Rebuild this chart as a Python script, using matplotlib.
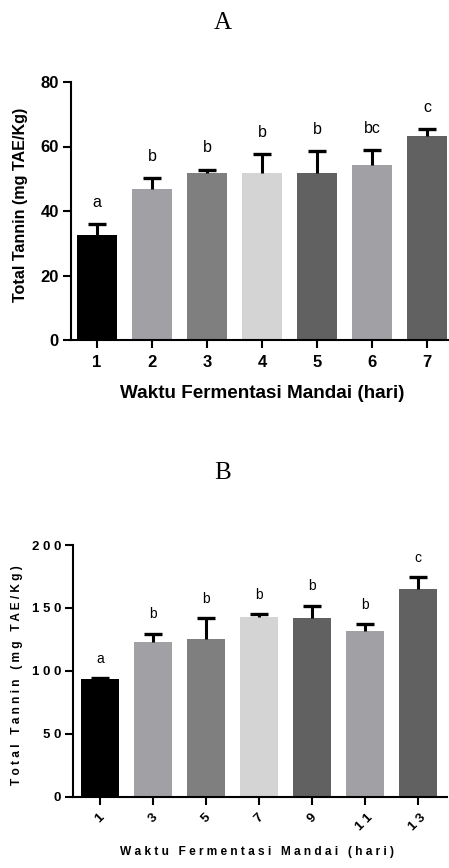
import matplotlib
matplotlib.use("Agg")
import matplotlib.pyplot as plt
import numpy as np

# ---- data -------------------------------------------------------------
days_a = ["1", "2", "3", "4", "5", "6", "7"]
tannin_a = [32.7, 46.7, 51.8, 51.8, 51.8, 54.3, 63.2]
sd_a = [3.2, 3.5, 1.0, 5.8, 6.8, 4.5, 2.2]
letters_a = ["a", "b", "b", "b", "b", "bc", "c"]
yticks_a = [0, 20, 40, 60, 80]

days_b = ["1", "3", "5", "7", "9", "11", "13"]
tannin_b = [93.3, 122.7, 125.1, 142.8, 142.0, 131.7, 165.1]
sd_b = [1.0, 6.8, 16.7, 2.4, 9.8, 5.3, 9.5]
letters_b = ["a", "b", "b", "b", "b", "b", "c"]
yticks_b = [0, 50, 100, 150, 200]

bar_colors = ["#000000", "#a1a1a5", "#7f7f7f", "#d4d4d4",
              "#616161", "#a1a1a5", "#616161"]

xlabel = "Waktu Fermentasi Mandai (hari)"
ylabel = "Total Tannin (mg TAE/Kg)"

SANS = ["Liberation Sans", "DejaVu Sans"]
SERIF = ["Liberation Serif", "DejaVu Serif"]


def spaced(s):
    """Letter-spaced version of a label."""
    return " ".join(s)


W, H = 449, 868
fig = plt.figure(figsize=(W / 100, H / 100), dpi=100)


def px_axes(left, top, right, bottom):
    return fig.add_axes([left / W, 1 - bottom / H, (right - left) / W, (bottom - top) / H])


def style_axes(ax):
    for side in ("top", "right"):
        ax.spines[side].set_visible(False)
    for side in ("left", "bottom"):
        ax.spines[side].set_linewidth(1.5)
    ax.tick_params(width=1.5, length=5.5, direction="out")


def draw_panel(ax, values, errs, letters, ylim, letter_size, letter_off):
    x = np.arange(1, len(values) + 1)
    ax.bar(x, values, width=0.72, color=bar_colors, edgecolor="none", zorder=2)
    # upper-only error bars: hide the cap drawn at the bar top
    _, caps, _ = ax.errorbar(x, values, yerr=[np.zeros(len(errs)), errs], fmt="none",
                             ecolor="black", elinewidth=2.2, capsize=6.8,
                             capthick=2.4, zorder=3)
    caps[0].set_visible(False)
    for xi, v, e, lt in zip(x, values, errs, letters):
        ax.annotate(lt, (xi, v + e), xytext=(0, letter_off), textcoords="offset points",
                    ha="center", va="baseline", fontsize=letter_size, family=SANS)
    ax.set_ylim(*ylim)
    return x


# ---- panel A ----------------------------------------------------------
axA = px_axes(70.5, 82, 448, 340)
style_axes(axA)
xa = draw_panel(axA, tannin_a, sd_a, letters_a, (0, 80), 11.5, 12.5)
axA.set_xlim(0.518, 7.38)
axA.set_xticks(xa)
axA.set_xticklabels(days_a, fontsize=12, fontweight="bold", family=SANS)
axA.set_yticks(yticks_a)
axA.set_yticklabels([str(v) for v in yticks_a], fontsize=12, fontweight="bold", family=SANS)
axA.tick_params(axis="x", pad=5)
axA.tick_params(axis="y", pad=3)

fig.text(223 / W, 1 - 23 / H, "A", family=SERIF, fontsize=18, ha="center", va="center")
fig.text(262.5 / W, 1 - 393 / H, xlabel, family=SANS, fontweight="bold",
         fontsize=13.6, ha="center", va="center")
fig.text(20.8 / W, 1 - 205 / H, ylabel, family=SANS, fontweight="bold",
         fontsize=11.6, ha="center", va="center", rotation=90)

# ---- panel B ----------------------------------------------------------
axB = px_axes(72.7, 545, 446.7, 796.7)
style_axes(axB)
xb = draw_panel(axB, tannin_b, sd_b, letters_b, (0, 200), 10, 11)
axB.set_xlim(0.484, 7.55)
axB.set_xticks(xb)
axB.set_xticklabels([spaced(d) for d in days_b], fontsize=9.5, fontweight="bold",
                    family=SANS, rotation=45, ha="center")
axB.set_yticks(yticks_b)
axB.set_yticklabels([spaced(str(v)) for v in yticks_b], fontsize=9.5,
                    fontweight="bold", family=SANS)
axB.tick_params(axis="x", pad=5)
axB.tick_params(axis="y", pad=3)

fig.text(223 / W, 1 - 473 / H, "B", family=SERIF, fontsize=18, ha="center", va="center")
fig.text(257.5 / W, 1 - 851.7 / H, spaced(xlabel), family=SANS, fontweight="bold",
         fontsize=8.6, ha="center", va="center")
fig.text(16.7 / W, 1 - 675 / H, spaced(ylabel), family=SANS, fontweight="bold",
         fontsize=8.6, ha="center", va="center", rotation=90)

fig.savefig("out.png", dpi=100, facecolor="white")
